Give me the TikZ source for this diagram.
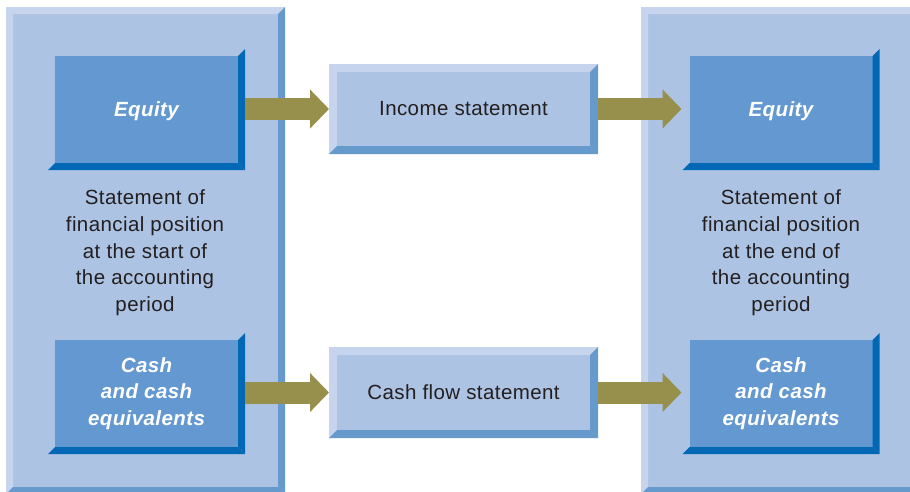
\documentclass[tikz,border=0pt]{standalone}
\usepackage{fontspec}
\setmainfont{Liberation Sans}[LetterSpace=2]
\usetikzlibrary{arrows.meta,calc}
\definecolor{panelface}{HTML}{ADC3E3}
\definecolor{bevlight}{HTML}{C6D5ED}
\definecolor{bevdark}{HTML}{6699CC}
\definecolor{boxface}{HTML}{6498D1}
\definecolor{boxdark}{HTML}{0068B4}
\definecolor{arrowc}{HTML}{978F4C}
\definecolor{txt}{HTML}{231F20}
\newcommand\framebevel[2]{%
  \fill[bevlight] (#1.north west) -- (#1.north east) -- ++(-#2,#2) -- ($(#1.north west)+(#2,#2)$) -- cycle;
  \fill[bevlight] (#1.north west) -- ($(#1.north west)+(#2,#2)$) -- ($(#1.south west)+(#2,-#2)$) -- (#1.south west) -- cycle;
  \fill[bevdark] (#1.north east) -- (#1.south east) -- ++(-#2,-#2) -- ($(#1.north east)+(-#2,#2)$) -- cycle;
  \fill[bevdark] (#1.south west) -- (#1.south east) -- ++(-#2,-#2) -- ($(#1.south west)+(#2,-#2)$) -- cycle;
}
\newcommand\innerbevel[1]{%
  \fill[boxdark] (#1.north east) -- ++(7,-7) -- ($(#1.south east)+(7,7)$) -- (#1.south east) -- cycle;
  \fill[boxdark] (#1.south west) -- (#1.south east) -- ++(7,7) -- ($(#1.south west)+(-7,7)$) -- cycle;
}
\tikzset{
  panel/.style={fill=panelface, inner sep=0pt, outer sep=0pt},
  midbox/.style={fill=panelface, inner sep=0pt, outer sep=0pt, minimum width=269pt, text=txt, font=\fontsize{20.5}{26.7}\selectfont},
  keybox/.style={fill=boxface, inner sep=0pt, outer sep=0pt, minimum width=183pt, minimum height=107pt, text=white, align=center, font=\fontsize{20.5}{26.7}\selectfont\bfseries\itshape},
  paneltext/.style={text=txt, align=center, inner sep=0pt, font=\fontsize{20.5}{26.7}\selectfont},
  flow/.style={draw=arrowc, line width=22pt, -{Triangle[width=38pt,length=19pt]}}
}
\begin{document}
\begin{tikzpicture}[x=1pt,y=-1pt]
\useasboundingbox (0,0) rectangle (910,491);
\clip (0,0) rectangle (910,491);
% panels
\node[panel, minimum width=279pt, minimum height=487pt] (lp) at (145.5,250.5) {};
\framebevel{lp}{7}
\node[panel, minimum width=276pt, minimum height=487pt] (rp) at (779,250.5) {};
\framebevel{rp}{7}
% key boxes
\node[keybox, text depth=0pt] (eqL) at (146.5,109.5) {Equity};
\innerbevel{eqL}
\node[keybox] (cashL) at (146.5,393.5) {Cash\\and cash\\equivalents};
\innerbevel{cashL}
\node[keybox, text depth=0pt] (eqR) at (781,109.5) {Equity};
\innerbevel{eqR}
\node[keybox] (cashR) at (781,393.5) {Cash\\and cash\\equivalents};
\innerbevel{cashR}
% panel texts
\node[paneltext] (tL) at (145,253) {Statement of\\financial position\\at the start of\\the accounting\\period};
\node[paneltext] (tR) at (781,253) {Statement of\\financial position\\at the end of\\the accounting\\period};
% middle boxes
\node[midbox, minimum height=90pt] (inc) at (463.5,109) {Income statement};
\framebevel{inc}{8}
\node[midbox, minimum height=91pt] (cf) at (463.5,392.5) {Cash flow statement};
\framebevel{cf}{8}
% arrows
\draw[flow] ([xshift=7pt]eqL.east |- inc.west) -- (inc.west);
\draw[flow] (inc.east) -- ([xshift=-8pt]eqR.west |- inc.east);
\draw[flow] ([xshift=7pt]cashL.east |- cf.west) -- (cf.west);
\draw[flow] (cf.east) -- ([xshift=-8pt]cashR.west |- cf.east);
\end{tikzpicture}
\end{document}
